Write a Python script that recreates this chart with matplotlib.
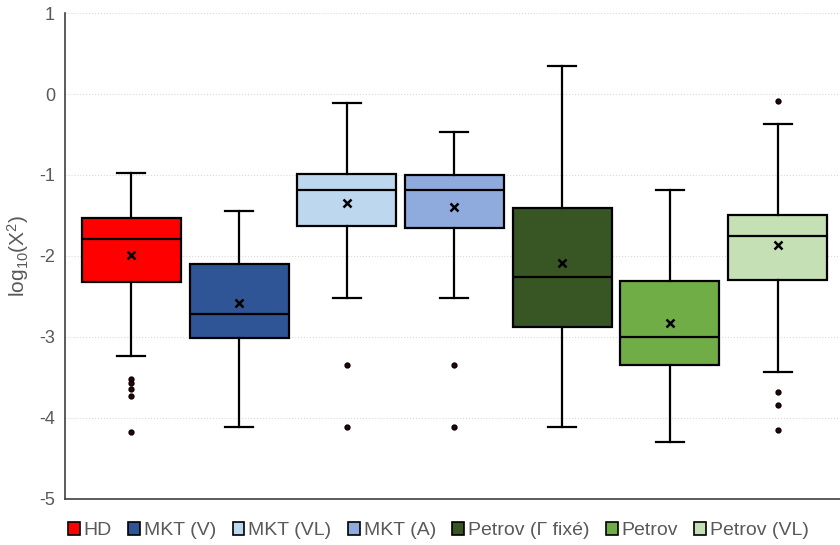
import matplotlib
matplotlib.use("Agg")
import matplotlib.pyplot as plt
from matplotlib.patches import Patch

plt.rcParams['font.family'] = ['Liberation Sans', 'DejaVu Sans']
plt.rcParams['mathtext.default'] = 'regular'
plt.rcParams['axes.unicode_minus'] = False

# series names and box statistics (log10 values)
labels = ["HD", "MKT (V)", "MKT (VL)", "MKT (A)", "Petrov (\u0393 fix\u00e9)", "Petrov", "Petrov (VL)"]
colors = ["#FF0000", "#2F5597", "#BDD7EE", "#8FAADC", "#375623", "#70AD47", "#C5E0B4"]
whis_lo = [-3.24, -4.12, -2.52, -2.52, -4.12, -4.30, -3.43]
q1 = [-2.32, -3.02, -1.63, -1.65, -2.88, -3.35, -2.30]
median = [-1.79, -2.72, -1.19, -1.19, -2.26, -3.00, -1.75]
q3 = [-1.535, -2.10, -0.99, -1.00, -1.41, -2.31, -1.49]
whis_hi = [-0.98, -1.45, -0.11, -0.47, 0.35, -1.19, -0.37]
means = [-1.99, -2.58, -1.35, -1.40, -2.09, -2.83, -1.86]
fliers = [
    [-3.52, -3.57, -3.64, -3.73, -4.17],
    [],
    [-3.35, -4.12],
    [-3.35, -4.12],
    [],
    [],
    [-0.09, -3.68, -3.84, -4.15],
]

stats = []
for i in range(len(labels)):
    stats.append(dict(whislo=whis_lo[i], q1=q1[i], med=median[i], q3=q3[i],
                      whishi=whis_hi[i], mean=means[i], fliers=fliers[i], label=labels[i]))

fig = plt.figure(figsize=(8.4, 5.45), dpi=100)
ax = fig.add_axes([0.077, 0.085, 0.923, 0.891])

positions = list(range(len(labels)))
bp = ax.bxp(stats, positions=positions, widths=0.92, patch_artist=True,
            showmeans=True, showfliers=True,
            boxprops=dict(edgecolor='black', linewidth=1.6),
            medianprops=dict(color='black', linewidth=1.6),
            whiskerprops=dict(color='black', linewidth=1.6),
            capprops=dict(color='black', linewidth=1.6),
            capwidths=0.26,
            meanprops=dict(marker='x', markeredgecolor='black', markeredgewidth=1.8,
                           markersize=6),
            flierprops=dict(marker='o', markerfacecolor='#3a0000', markeredgecolor='black',
                            markersize=3.5, markeredgewidth=1))
for patch, c in zip(bp['boxes'], colors):
    patch.set_facecolor(c)

ax.set_xlim(-0.62, 6.58)
ax.set_ylim(-5, 1)
ax.set_yticks([1, 0, -1, -2, -3, -4, -5])
ax.set_xticks([])
ax.yaxis.grid(True, color='#d9d9d9', linestyle=':', linewidth=0.8)
ax.set_axisbelow(True)
ax.tick_params(axis='y', length=0, labelsize=13, labelcolor='#595959', pad=7)
for s in ['top', 'right']:
    ax.spines[s].set_visible(False)
ax.spines['left'].set_color('#404040')
ax.spines['left'].set_linewidth(1.2)
ax.spines['bottom'].set_color('#404040')
ax.spines['bottom'].set_linewidth(1.2)

ax.set_ylabel("log$_{10}$(X$^{2}$)", fontsize=15, color='#595959', labelpad=6)

handles = [Patch(facecolor=c, edgecolor='black', linewidth=1.2) for c in colors]
fig.legend(handles, labels, loc='lower center', bbox_to_anchor=(0.522, -0.022), ncol=len(labels),
           frameon=False, fontsize=14, handlelength=0.6, handleheight=0.6,
           handletextpad=0.2, columnspacing=0.85, labelcolor='#595959')

fig.savefig("out.png", dpi=100)
